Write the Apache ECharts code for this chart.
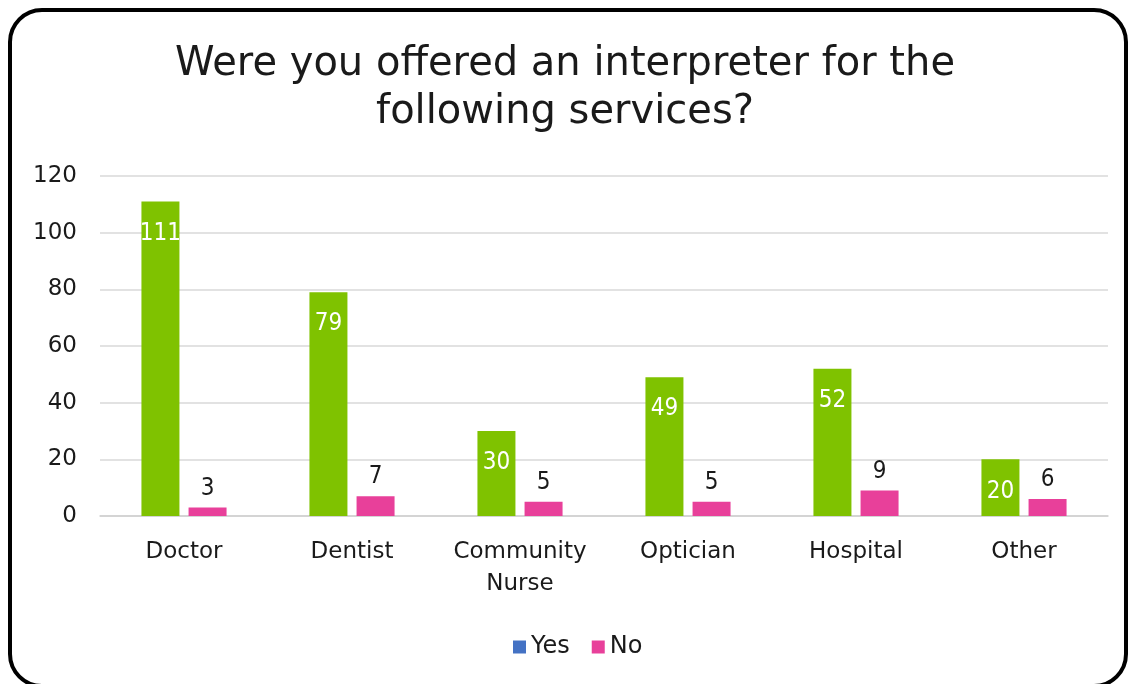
<!DOCTYPE html>
<html>
<head>
<meta charset="utf-8">
<script src="https://cdn.jsdelivr.net/npm/echarts@6/dist/echarts.min.js"></script>
<style>
  html, body { margin: 0; padding: 0; background: #ffffff; }
  #chart { width: 1130px; height: 684px; }
</style>
</head>
<body>
<div id="chart"></div>
<script>
// Services asked about in the survey
const categories = ['Doctor', 'Dentist', 'Community\nNurse', 'Optician', 'Hospital', 'Other'];
// Number of respondents answering each way
const yesValues = [111, 79, 30, 49, 52, 20];
const noValues = [3, 7, 5, 5, 9, 6];
// Value axis ticks
const yTicks = [0, 20, 40, 60, 80, 100, 120];

const FONT = '"DejaVu Sans", sans-serif';
const FONT_NARROW = '"DejaVu Sans Condensed", "DejaVu Sans", sans-serif';
const GREEN = '#7fc200';
const PINK = '#e8409a';
const BLUE = '#4472c4';

const chart = echarts.init(document.getElementById('chart'), null, { renderer: 'canvas' });

chart.setOption({
  backgroundColor: '#ffffff',
  animation: false,
  title: {
    text: 'Were you offered an interpreter for the\nfollowing services?',
    left: 'center',
    top: 36,
    textStyle: {
      fontFamily: FONT,
      fontSize: 40,
      fontWeight: 'normal',
      color: '#1a1a1a',
      lineHeight: 48
    }
  },
  legend: {
    bottom: 20,
    left: 508,
    itemWidth: 13,
    itemHeight: 13,
    itemGap: 22,
    icon: 'rect',
    textStyle: { fontFamily: FONT, fontSize: 24, color: '#1a1a1a' },
    data: [
      { name: 'Yes', itemStyle: { color: BLUE } },
      { name: 'No', itemStyle: { color: PINK } }
    ]
  },
  grid: { left: 100, right: 22, top: 176, bottom: 168, containLabel: false },
  xAxis: {
    type: 'category',
    data: categories,
    axisLine: { lineStyle: { color: '#d0d0d0', width: 1.5 } },
    axisTick: { show: false },
    axisLabel: { interval: 0, fontFamily: FONT, fontSize: 23, color: '#1a1a1a', margin: 20, lineHeight: 32 }
  },
  yAxis: {
    type: 'value',
    min: yTicks[0],
    max: yTicks[yTicks.length - 1],
    interval: 20,
    axisLine: { show: false },
    axisTick: { show: false },
    splitLine: { lineStyle: { color: '#d9d9d9', width: 1.5 } },
    axisLabel: { fontFamily: FONT, fontSize: 23, color: '#1a1a1a', margin: 23, align: 'right' }
  },
  series: [
    {
      name: 'Yes',
      type: 'bar',
      data: yesValues,
      barWidth: 38,
      barGap: '24%',
      itemStyle: { color: GREEN },
      label: {
        show: true,
        position: 'insideTop',
        distance: 20,
        fontFamily: FONT_NARROW,
        fontSize: 24,
        color: '#ffffff'
      }
    },
    {
      name: 'No',
      type: 'bar',
      data: noValues,
      barWidth: 38,
      itemStyle: { color: PINK },
      label: {
        show: true,
        position: 'top',
        distance: 7,
        fontFamily: FONT_NARROW,
        fontSize: 24,
        color: '#1a1a1a'
      }
    }
  ],
  graphic: [
    {
      type: 'rect',
      shape: { x: 10, y: 10, width: 1116, height: 676, r: 32 },
      style: { fill: 'none', stroke: '#000000', lineWidth: 4 },
      z: 100
    }
  ]
});
</script>
</body>
</html>
